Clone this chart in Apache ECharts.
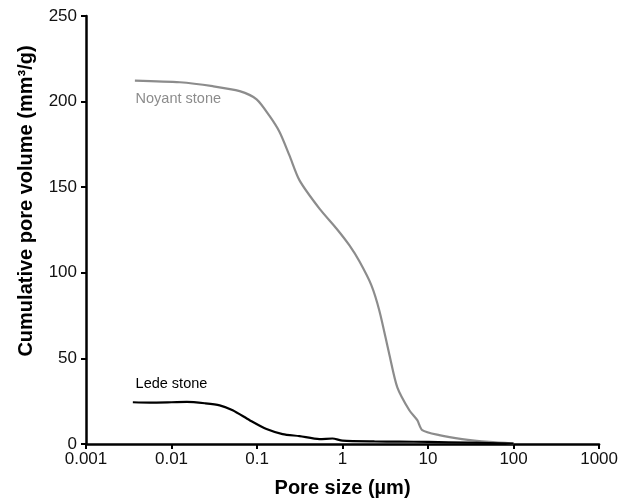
<!DOCTYPE html>
<html>
<head>
<meta charset="utf-8">
<script src="https://cdn.jsdelivr.net/npm/echarts@6/dist/echarts.min.js"></script>
<style>html,body{margin:0;padding:0;background:#fff}#c{width:621px;height:503px}</style>
</head>
<body>
<div id="c"></div>
<script>
var xTicks = [0.001, 0.01, 0.1, 1, 10, 100, 1000];
var yTicks = [0, 50, 100, 150, 200, 250];

var noyantSize = [0.00373, 0.0125, 0.0303, 0.0627, 0.0989, 0.140, 0.184, 0.240, 0.314, 0.537, 0.848, 1.205, 1.574, 2.17, 2.70, 3.53, 4.37, 6.04, 7.48, 8.55, 13.5, 25, 51.8, 100];
var noyantVol  = [212.3, 211.3, 209.0, 206.1, 201.3, 191.6, 182.1, 168.4, 154.0, 137.5, 125.9, 116.0, 106.7, 92.8, 77.7, 52.2, 33.1, 19.7, 13.9, 8.1, 5.2, 2.9, 1.2, 0.3];

var ledeSize = [0.00353, 0.00558, 0.01, 0.0151, 0.0245, 0.0366, 0.0519, 0.082, 0.129, 0.199, 0.314, 0.537, 0.762, 1.0, 2.36, 4.6, 10, 30.2, 100];
var ledeVol  = [24.4, 24.2, 24.4, 24.6, 23.8, 22.6, 19.7, 13.9, 8.7, 5.8, 4.6, 2.9, 3.2, 2.0, 1.5, 1.4, 1.2, 0.8, 0.3];

var labelNames = ['Noyant stone', 'Lede stone'];
var labelPos = [[0.0038, 201.3], [0.0038, 34.8]];

function pairs(xs, ys) { return xs.map(function (x, i) { return [x, ys[i]]; }); }

var FONT = 'Liberation Sans, Arial, sans-serif';
var chart = echarts.init(document.getElementById('c'), null, {renderer: 'canvas'});
chart.setOption({
  animation: false,
  backgroundColor: '#fff',
  grid: {left: 86, right: 21, top: 16, bottom: 56, containLabel: false},
  xAxis: {
    type: 'log', logBase: 10, min: 0.001, max: 1000,
    name: 'Pore size (µm)', nameLocation: 'middle', nameGap: 34,
    nameTextStyle: {fontFamily: FONT, fontSize: 20, fontWeight: 'bold', color: '#000'},
    axisLine: {onZero: false, lineStyle: {color: '#000', width: 2.5}},
    axisTick: {show: true, length: 5, inside: false, lineStyle: {color: '#000', width: 2}},
    minorTick: {show: false},
    splitLine: {show: false},
    axisLabel: {fontFamily: FONT, fontSize: 17, color: '#111', margin: 7,
      formatter: function (v) { var t = xTicks.find(function (k) { return Math.abs(Math.log10(k) - Math.log10(v)) < 1e-6; }); return t === undefined ? '' : String(t); }}
  },
  yAxis: {
    type: 'value', min: 0, max: 250, interval: 50,
    name: 'Cumulative pore volume (mm³/g)', nameLocation: 'middle', nameGap: 50, nameRotate: 90,
    nameTextStyle: {fontFamily: FONT, fontSize: 20, fontWeight: 'bold', color: '#000', padding: [0, 0, 0, 58]},
    axisLine: {show: true, lineStyle: {color: '#000', width: 2.5}},
    axisTick: {show: true, length: 5, lineStyle: {color: '#000', width: 2}},
    splitLine: {show: false},
    axisLabel: {fontFamily: FONT, fontSize: 17, color: '#111', margin: 9}
  },
  series: [
    {
      name: labelNames[0], type: 'line', smooth: 0.25, showSymbol: false,
      data: pairs(noyantSize, noyantVol),
      lineStyle: {color: '#8c8c8c', width: 2.2},
      itemStyle: {color: '#8c8c8c'},
      markPoint: {
        symbol: 'circle', symbolSize: 0,
        label: {show: true, position: 'right', distance: 0, formatter: labelNames[0], color: '#8c8c8c', fontFamily: FONT, fontSize: 14.5},
        data: [{coord: labelPos[0]}]
      },
      z: 2
    },
    {
      name: labelNames[1], type: 'line', smooth: 0.25, showSymbol: false,
      data: pairs(ledeSize, ledeVol),
      lineStyle: {color: '#000', width: 2.2},
      itemStyle: {color: '#000'},
      markPoint: {
        symbol: 'circle', symbolSize: 0,
        label: {show: true, position: 'right', distance: 0, formatter: labelNames[1], color: '#000', fontFamily: FONT, fontSize: 14.5},
        data: [{coord: labelPos[1]}]
      },
      z: 3
    }
  ]
});
</script>
</body>
</html>
